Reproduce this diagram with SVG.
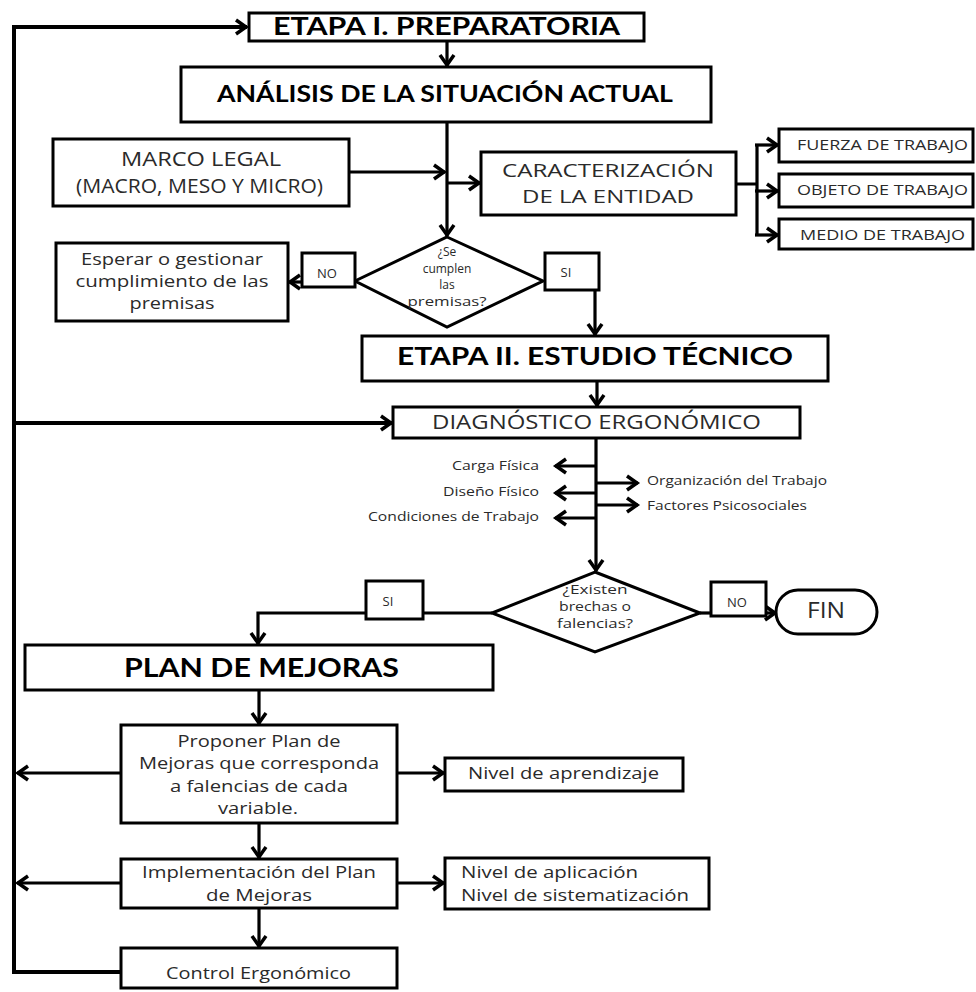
<svg xmlns="http://www.w3.org/2000/svg" width="976" height="992" viewBox="0 0 976 992">
<defs>
<style>
.box{fill:#fff;stroke:#000;stroke-width:3}
.ln{fill:none;stroke:#000;stroke-width:3.2;marker-end:url(#ah)}
.ln0{fill:none;stroke:#000;stroke-width:3.2}
.loop{stroke-width:4}
.t{font-family:"Open Sans","Liberation Sans",sans-serif;fill:#2a2a2a;text-anchor:middle}
.s{font-family:"Open Sans","Liberation Sans",sans-serif;fill:#2a2a2a}
.h{font-family:Lato,"Liberation Sans",sans-serif;font-weight:bold;fill:#000;text-anchor:middle}
</style>
<marker id="ah" markerUnits="userSpaceOnUse" viewBox="-14 -10 16 20" markerWidth="16" markerHeight="20" refX="0" refY="0" orient="auto" overflow="visible">
<path d="M-11,-7 L-1,0 L-11,7" fill="none" stroke="#000" stroke-width="3.5"/>
</marker>
</defs>
<rect width="976" height="992" fill="#fff"/>
<g id="connectors">
<path class="ln loop" d="M121,972 H14 V27 H247"/>
<path class="ln loop" d="M14,423 H392"/>
<path class="ln" d="M121,773 H17"/>
<path class="ln" d="M121,883 H17"/>
<path class="ln" d="M447,41 V66"/>
<path class="ln" d="M447,122 V236"/>
<path class="ln" d="M349,172 H445"/>
<path class="ln" d="M447,183 H480"/>
<path class="ln0" d="M736,184 H757 M757,145 V235"/>
<path class="ln" d="M755,145 H778"/>
<path class="ln" d="M755,191 H778"/>
<path class="ln" d="M755,235 H778"/>
<path class="ln" d="M302,282 H289"/>
<path class="ln" d="M595,290 V335"/>
<path class="ln" d="M597,381 V406"/>
<path class="ln" d="M596,438 V571"/>
<path class="ln" d="M596,466 H555"/>
<path class="ln" d="M596,493 H555"/>
<path class="ln" d="M596,518 H555"/>
<path class="ln" d="M596,483 H638"/>
<path class="ln" d="M596,505 H638"/>
<path class="ln0" d="M492,613 H423"/>
<path class="ln" d="M366,613 H258 V644"/>
<path class="ln0" d="M700,613 H711"/>
<path class="ln" d="M766,613 H776"/>
<path class="ln" d="M259,690 V724"/>
<path class="ln" d="M397,773 H444"/>
<path class="ln" d="M259,823 V858"/>
<path class="ln" d="M397,883 H444"/>
<path class="ln" d="M259,908 V947"/>
</g>
<g id="n-etapa1"><rect class="box" x="249" y="13" width="395" height="28"/><text class="h" x="446.5" y="35" font-size="24" textLength="347" lengthAdjust="spacingAndGlyphs">ETAPA I. PREPARATORIA</text></g>
<g id="n-analisis"><rect class="box" x="181" y="67" width="530" height="55"/><text class="h" x="445" y="102" font-size="23" textLength="456" lengthAdjust="spacingAndGlyphs">ANÁLISIS DE LA SITUACIÓN ACTUAL</text></g>
<g id="n-marco"><rect class="box" x="53" y="139" width="296" height="67"/><text class="t" x="201" y="166" font-size="19.5" textLength="160" lengthAdjust="spacingAndGlyphs">MARCO LEGAL</text><text class="t" x="199.5" y="193" font-size="19.5" textLength="247" lengthAdjust="spacingAndGlyphs">(MACRO, MESO Y MICRO)</text></g>
<g id="n-caract"><rect class="box" x="481" y="152" width="255" height="63"/><text class="t" x="608" y="177" font-size="19" textLength="212" lengthAdjust="spacingAndGlyphs">CARACTERIZACIÓN</text><text class="t" x="608" y="203" font-size="19" textLength="172" lengthAdjust="spacingAndGlyphs">DE LA ENTIDAD</text></g>
<g id="n-fuerza"><rect class="box" x="779" y="129" width="194" height="33"/><text class="t" x="882.5" y="150" font-size="14" textLength="171" lengthAdjust="spacingAndGlyphs">FUERZA DE TRABAJO</text></g>
<g id="n-objeto"><rect class="box" x="779" y="174" width="194" height="33"/><text class="t" x="882.5" y="195" font-size="14" textLength="171" lengthAdjust="spacingAndGlyphs">OBJETO DE TRABAJO</text></g>
<g id="n-medio"><rect class="box" x="779" y="219" width="194" height="30"/><text class="t" x="882.5" y="240" font-size="14" textLength="165" lengthAdjust="spacingAndGlyphs">MEDIO DE TRABAJO</text></g>
<g id="n-esperar"><rect class="box" x="56" y="243" width="232" height="78"/><text class="t" x="172" y="265" font-size="16" textLength="182" lengthAdjust="spacingAndGlyphs">Esperar o gestionar</text><text class="t" x="172" y="287" font-size="16" textLength="193" lengthAdjust="spacingAndGlyphs">cumplimiento de las</text><text class="t" x="172" y="309" font-size="16" textLength="85" lengthAdjust="spacingAndGlyphs">premisas</text></g>
<g id="n-cond1"><polygon class="box" points="447,237 543,281 447,327 355,281"/><text class="t" x="447" y="256" font-size="12">¿Se</text><text class="t" x="447" y="272.5" font-size="12">cumplen</text><text class="t" x="447" y="289" font-size="12">las</text><text class="t" x="447" y="305.5" font-size="12" textLength="79" lengthAdjust="spacingAndGlyphs">premisas?</text></g>
<g id="n-no1"><rect class="box" x="302" y="253" width="53" height="34"/><text class="t" x="327" y="278" font-size="13">NO</text></g>
<g id="n-si1"><rect class="box" x="545" y="253" width="54" height="37"/><text class="t" x="566" y="277" font-size="13">SI</text></g>
<g id="n-etapa2"><rect class="box" x="362" y="336" width="466" height="45"/><text class="h" x="595" y="365" font-size="25" textLength="396" lengthAdjust="spacingAndGlyphs">ETAPA II. ESTUDIO TÉCNICO</text></g>
<g id="n-diag"><rect class="box" x="393" y="407" width="407" height="31"/><text class="t" x="596.5" y="429" font-size="20" textLength="329" lengthAdjust="spacingAndGlyphs">DIAGNÓSTICO ERGONÓMICO</text></g>
<g id="n-carga"><text class="s" x="539" y="470" font-size="13" text-anchor="end" textLength="87" lengthAdjust="spacingAndGlyphs">Carga Física</text></g>
<g id="n-diseno"><text class="s" x="539" y="496" font-size="13" text-anchor="end" textLength="96" lengthAdjust="spacingAndGlyphs">Diseño Físico</text></g>
<g id="n-condiciones"><text class="s" x="539" y="521" font-size="13" text-anchor="end" textLength="171" lengthAdjust="spacingAndGlyphs">Condiciones de Trabajo</text></g>
<g id="n-organizacion"><text class="s" x="647" y="485" font-size="13" textLength="180" lengthAdjust="spacingAndGlyphs">Organización del Trabajo</text></g>
<g id="n-factores"><text class="s" x="647" y="510" font-size="13" textLength="160" lengthAdjust="spacingAndGlyphs">Factores Psicosociales</text></g>
<g id="n-cond2"><polygon class="box" points="595,572 700,613 595,652 492,613"/><text class="t" x="595" y="594" font-size="12" textLength="65" lengthAdjust="spacingAndGlyphs">¿Existen</text><text class="t" x="595" y="611" font-size="12" textLength="72" lengthAdjust="spacingAndGlyphs">brechas o</text><text class="t" x="595" y="628" font-size="12" textLength="76" lengthAdjust="spacingAndGlyphs">falencias?</text></g>
<g id="n-si2"><rect class="box" x="366" y="581" width="57" height="38"/><text class="t" x="388" y="606" font-size="13">SI</text></g>
<g id="n-no2"><rect class="box" x="711" y="582" width="55" height="34"/><text class="t" x="737" y="607" font-size="13">NO</text></g>
<g id="n-fin"><rect class="box" x="776" y="590" width="101" height="44" rx="22" ry="22"/><text class="t" x="826" y="618" font-size="21" textLength="38" lengthAdjust="spacingAndGlyphs">FIN</text></g>
<g id="n-plan"><rect class="box" x="25" y="645" width="468" height="45"/><text class="h" x="261.5" y="677" font-size="26" textLength="275" lengthAdjust="spacingAndGlyphs">PLAN DE MEJORAS</text></g>
<g id="n-proponer"><rect class="box" x="121" y="725" width="276" height="98"/><text class="t" x="259" y="747" font-size="16" textLength="163" lengthAdjust="spacingAndGlyphs">Proponer Plan de</text><text class="t" x="259" y="769.3" font-size="16" textLength="240" lengthAdjust="spacingAndGlyphs">Mejoras que corresponda</text><text class="t" x="259" y="791.6" font-size="16" textLength="178" lengthAdjust="spacingAndGlyphs">a falencias de cada</text><text class="t" x="258" y="814" font-size="16" textLength="80" lengthAdjust="spacingAndGlyphs">variable.</text></g>
<g id="n-nivel1"><rect class="box" x="445" y="758" width="238" height="33"/><text class="t" x="563.5" y="779" font-size="17" textLength="191" lengthAdjust="spacingAndGlyphs">Nivel de aprendizaje</text></g>
<g id="n-impl"><rect class="box" x="121" y="859" width="276" height="49"/><text class="t" x="259" y="878" font-size="16.5" textLength="234" lengthAdjust="spacingAndGlyphs">Implementación del Plan</text><text class="t" x="259" y="901" font-size="16.5" textLength="106" lengthAdjust="spacingAndGlyphs">de Mejoras</text></g>
<g id="n-nivel2"><rect class="box" x="445" y="858" width="264" height="51"/><text class="s" x="461" y="878" font-size="16.5" textLength="177" lengthAdjust="spacingAndGlyphs">Nivel de aplicación</text><text class="s" x="461" y="901" font-size="16.5" textLength="228" lengthAdjust="spacingAndGlyphs">Nivel de sistematización</text></g>
<g id="n-control"><rect class="box" x="121" y="948" width="276" height="40"/><text class="t" x="258.5" y="979" font-size="17" textLength="185" lengthAdjust="spacingAndGlyphs">Control Ergonómico</text></g>
</svg>
